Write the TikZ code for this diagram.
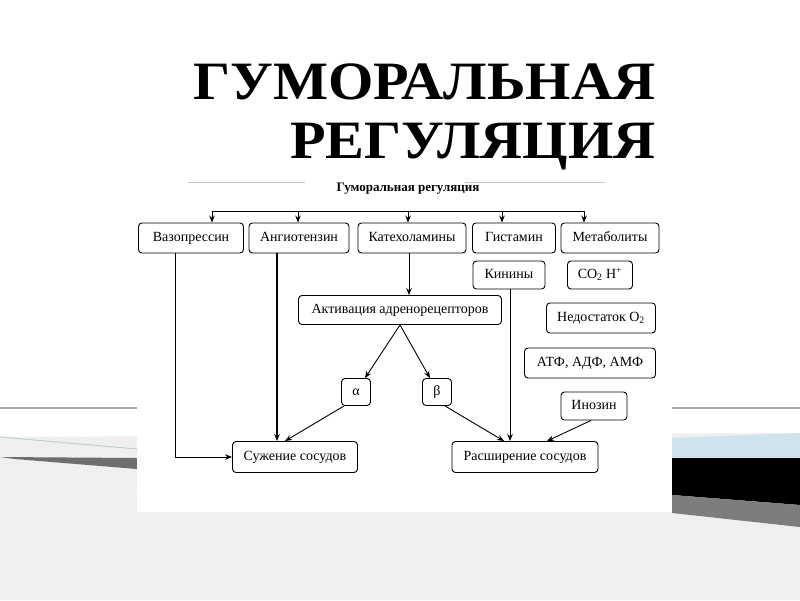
\documentclass[tikz,border=0pt]{standalone}
\usepackage{fontspec}
\setmainfont{Liberation Serif}
\usetikzlibrary{arrows.meta,calc,patterns}

\definecolor{svetlosiniy}{RGB}{208,226,236}
\definecolor{temnoseryy}{RGB}{110,110,110}
\definecolor{seryy}{RGB}{125,125,125}

\tikzset{
  blok/.style={draw, rounded corners=3.5pt, line width=0.9pt, inner sep=0pt,
    minimum height=30, text height=9.5pt, text depth=3pt,
    font=\fontsize{14}{14}\selectfont},
  strl/.style={-{Stealth[length=7pt,width=5.5pt]}, line width=0.9pt},
  liniya/.style={line width=0.9pt},
  zagolovok/.style={anchor=base east, font=\bfseries\fontsize{54}{54}\selectfont},
}

\begin{document}
\begin{tikzpicture}[x=1pt,y=-1pt]
\useasboundingbox (0,0) rectangle (800,600);
% background of the slide
\fill[white] (0,0) rectangle (800,600);
\fill[gray!7] (0,437) -- (800,433) -- (800,600) -- (0,600) -- cycle;
\fill[pattern=north east lines, pattern color=gray!22] (0,437) -- (800,433) -- (800,600) -- (0,600) -- cycle;
\draw[gray!70, line width=1.2] (0,408) -- (137,408) (672,408) -- (800,408);
\draw[svetlosiniy!80!gray, line width=1] (0,437) -- (137,449);
\fill[temnoseryy] (0,457) -- (137,458) -- (137,469) -- (15,459) -- cycle;
\fill[svetlosiniy] (672,438) -- (800,433) -- (800,458) -- (672,458) -- cycle;
\fill[black] (672,458) -- (800,458) -- (800,505) -- (672,495) -- cycle;
\fill[seryy] (672,495) -- (800,505) -- (800,527) -- (672,513) -- cycle;
% sheet with the scheme
\fill[white] (137,180) rectangle (672,512);
\draw[gray!45, line width=0.6] (188,182) -- (305,182) (465,182) -- (605,182);

% title
\node[zagolovok] (zag1) at (659,99) {\scalebox{1.08}[1]{ГУМОРАЛЬНАЯ}};
\node[zagolovok] (zag2) at (659,158) {\scalebox{1.08}[1]{РЕГУЛЯЦИЯ}};

\node[font=\bfseries\fontsize{13}{13}\selectfont] (shapka) at (408,189) {Гуморальная регуляция};

% top row
\node[blok, minimum width=105] (vaz) at (191,238) {Вазопрессин};
\node[blok, minimum width=100] (ang) at (299,238) {Ангиотензин};
\node[blok, minimum width=108] (kat) at (412,238) {Катехоламины};
\node[blok, minimum width=83] (gis) at (514,238) {Гистамин};
\node[blok, minimum width=98] (met) at (610,238) {Метаболиты};
% second row and right column
\node[blok, minimum width=72, minimum height=28] (kin) at (509,275) {Кинины};
\node[blok, minimum width=65, minimum height=28] (co) at (600,275) {CO\textsubscript{2} H\textsuperscript{+}};
\node[blok, minimum width=203, minimum height=29] (akt) at (400,310) {Активация адренорецепторов};
\node[blok, minimum width=109] (ned) at (601,318) {Недостаток O\textsubscript{2}};
\node[blok, minimum width=131] (atf) at (590,363) {АТФ, АДФ, АМФ};
\node[blok, minimum width=29, minimum height=27] (alf) at (356,392) {α};
\node[blok, minimum width=29, minimum height=27] (bet) at (437,392) {β};
\node[blok, minimum width=66, minimum height=28] (ino) at (594,406) {Инозин};
% effects
\node[blok, minimum width=125, minimum height=31] (suzh) at (295,457) {Сужение сосудов};
\node[blok, minimum width=146, minimum height=31] (rassh) at (525,457) {Расширение сосудов};

% bus from the heading
\coordinate (shina1) at (212,211);
\coordinate (shina5) at (584,211);
\draw[liniya] (shina1) -- (shina5);
\foreach \x/\cel in {212/vaz,298/ang,408/kat,502/gis,584/met}{
  \coordinate (s-\cel) at (\x,211);
  \draw[strl] (s-\cel) -- (s-\cel |- \cel.north);
}

% connectors
\draw[strl] ([xshift=-16]vaz.south) |- (suzh.west);
\draw[strl, line width=1.3] ([xshift=-22]ang.south) -- ([xshift=-22]ang.south |- suzh.north);
\draw[strl] ([xshift=-3]kat.south) -- ([xshift=-3]kat.south |- akt.north);
\draw[strl] (akt.south) -- ([xshift=9]alf.north);
\draw[strl] (akt.south) -- ([xshift=-7]bet.north);
\draw[strl] ([xshift=3]alf.south west) -- ([xshift=-10]suzh.north);
\draw[strl] ([xshift=-7]bet.south east) -- ([xshift=-21]rassh.north);
\draw[strl] ([xshift=1]kin.south) -- ([xshift=1]kin.south |- rassh.north);
\draw[strl] ([xshift=-3]ino.south) -- ([xshift=22]rassh.north);
\end{tikzpicture}
\end{document}
